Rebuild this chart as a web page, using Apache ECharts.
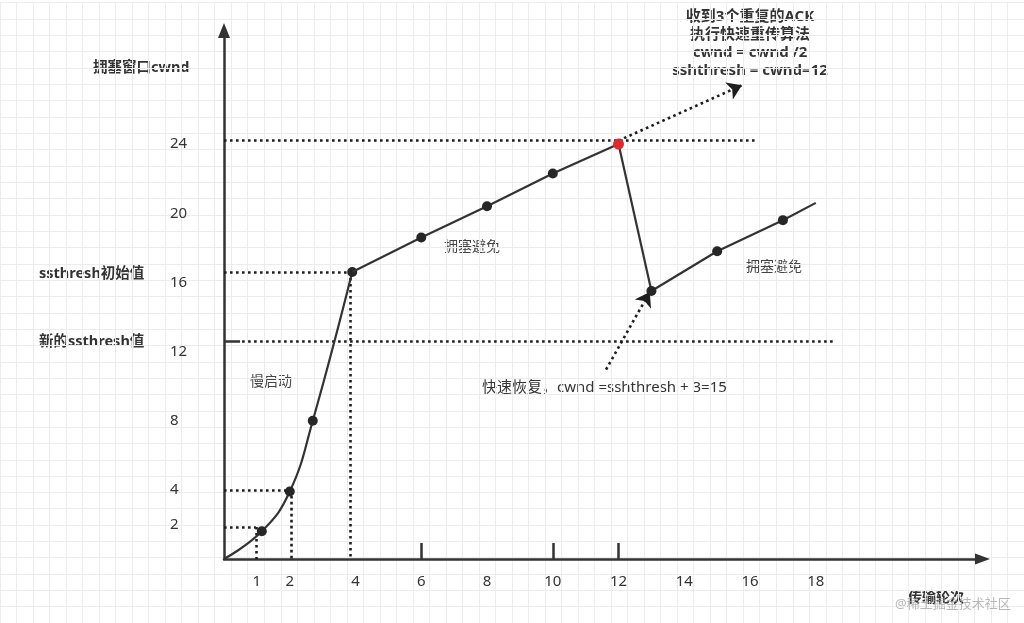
<!DOCTYPE html>
<html><head><meta charset="utf-8">
<script src="https://cdn.jsdelivr.net/npm/echarts@6/dist/echarts.min.js"></script>
<style>html,body{margin:0;padding:0;background:#fff}#c{width:1024px;height:623px}</style>
</head><body><div id="c"></div>
<script>
// ---- data ----
const xTickLabels = [1, 2, 4, 6, 8, 10, 12, 14, 16, 18];
const xTickMarks = [6, 10, 12];
const yTickLabels = [2, 4, 8, 12, 16, 20, 24];

const slowStartRounds = [0, 1.15, 2, 2.7, 3.9];
const slowStartCwnd   = [0, 1.6, 3.9, 8, 16.6];

const avoidRounds = [3.9, 6, 8, 10, 12];
const avoidCwnd   = [16.6, 18.6, 20.4, 22.3, 24];

const dropRounds = [12, 13];
const dropCwnd   = [24, 15.5];

const recoveryRounds = [13, 15, 17, 18];
const recoveryCwnd   = [15.5, 17.8, 19.6, 20.6];

const peakLevel = 24.2, peakGuideEnd = 16.2;
const initSsthresh = 16.6, initRound = 3.85;
const level4 = 4, level4Round = 2.05;
const level2 = 1.85, level2Round = 0.97;
const newSsthresh = 12.6, newGuideEnd = 18.6;

const timeoutArrow = [[12, 24.2], [15.75, 27.4]];
const recoveryArrow = [[11.62, 10.96], [12.95, 15.45]];

// ---- build ----
const INK = '#333';
const FONT = '"Noto Sans", "Noto Sans CJK SC", sans-serif';
function pairs(xs, ys, lastNoSymbol) {
  return xs.map((x, i) => {
    const item = { value: [x, ys[i]] };
    if ((i === 0 && !lastNoSymbol) || (lastNoSymbol && i === xs.length - 1)) item.symbol = 'none';
    return item;
  });
}
const dotted = { color: '#1e1e1e', width: 2.6, type: [2.6, 3.4], opacity: 1 };

const guideSegments = [
  [[0, peakLevel], [peakGuideEnd, peakLevel]],
  [[0, initSsthresh], [initRound, initSsthresh]],
  [[initRound, initSsthresh], [initRound, 0]],
  [[0, level4], [level4Round, level4]],
  [[level4Round, level4], [level4Round, 0]],
  [[0, level2], [level2Round, level2]],
  [[level2Round, level2], [level2Round, 0]],
  [[0.55, newSsthresh], [newGuideEnd, newSsthresh]]
];

const avoidData = pairs(avoidRounds, avoidCwnd, false);
avoidData[avoidData.length - 1].itemStyle = { color: '#e2262c' };
avoidData[avoidData.length - 1].symbolSize = 11;

const chart = echarts.init(document.getElementById('c'), null, { renderer: 'canvas' });
chart.setOption({
  animation: false,
  backgroundColor: '#fff',
  grid: [
    { left: 224, right: 41.5, top: 30.5, bottom: 64 },
    { left: -1.24, right: -45.5, top: 2.7, bottom: -37.1 }
  ],
  xAxis: [
    {
      gridIndex: 0, type: 'value', min: 0, max: 23.07,
      axisLine: { show: true, symbol: ['none', 'triangle'], symbolSize: [11, 15], lineStyle: { color: INK, width: 2.5 } },
      axisTick: { show: true, inside: true, length: 16, customValues: xTickMarks, lineStyle: { color: INK, width: 2.5 } },
      axisLabel: { customValues: xTickLabels, margin: 15, fontSize: 15, color: INK, fontFamily: FONT },
      splitLine: { show: false }
    },
    {
      gridIndex: 1, type: 'value', min: 0, max: 62, interval: 1,
      axisLine: { show: false }, axisTick: { show: false }, axisLabel: { show: false },
      splitLine: { show: true, lineStyle: { color: '#ececec', width: 1 } }
    }
  ],
  yAxis: [
    {
      gridIndex: 0, type: 'value', min: 0, max: 30.57,
      axisLine: { show: true, symbol: ['none', 'triangle'], symbolSize: [12, 15], lineStyle: { color: INK, width: 2.5 } },
      axisTick: { show: true, inside: true, length: 16, customValues: [newSsthresh], lineStyle: { color: INK, width: 2.5 } },
      axisLabel: { customValues: yTickLabels, margin: 54, align: 'left', fontSize: 15, color: INK, fontFamily: FONT },
      splitLine: { show: false }
    },
    {
      gridIndex: 1, type: 'value', min: 0, max: 38, interval: 1, inverse: true,
      axisLine: { show: false }, axisTick: { show: false }, axisLabel: { show: false },
      splitLine: { show: true, lineStyle: { color: '#ececec', width: 1 } }
    }
  ],
  series: [
    { type: 'scatter', xAxisIndex: 1, yAxisIndex: 1, data: [], silent: true },
    {
      type: 'lines', coordinateSystem: 'cartesian2d', z: 2, silent: true,
      symbol: ['none', 'none'],
      lineStyle: dotted,
      data: guideSegments.map(c => ({ coords: c }))
    },
    {
      type: 'lines', coordinateSystem: 'cartesian2d', z: 2, silent: true,
      symbol: ['none', 'arrow'], symbolSize: 14,
      lineStyle: dotted,
      itemStyle: { color: '#1e1e1e' },
      data: [{ coords: timeoutArrow }, { coords: recoveryArrow }]
    },
    {
      type: 'line', z: 3, smooth: 0.45, showAllSymbol: true,
      symbol: 'circle', symbolSize: 10,
      lineStyle: { color: INK, width: 2.2 }, itemStyle: { color: '#262626' },
      data: pairs(slowStartRounds, slowStartCwnd, false)
    },
    {
      type: 'line', z: 4, showAllSymbol: true,
      symbol: 'circle', symbolSize: 10,
      lineStyle: { color: INK, width: 2.2 }, itemStyle: { color: '#262626' },
      data: avoidData
    },
    {
      type: 'line', z: 3, showSymbol: false,
      lineStyle: { color: INK, width: 2.2 },
      data: dropRounds.map((x, i) => [x, dropCwnd[i]])
    },
    {
      type: 'line', z: 4, showAllSymbol: true,
      symbol: 'circle', symbolSize: 10,
      lineStyle: { color: INK, width: 2.2 }, itemStyle: { color: '#262626' },
      data: pairs(recoveryRounds, recoveryCwnd, true)
    }
  ],
  graphic: [
    { type: 'text', x: 93, y: 68, style: { text: '拥塞窗口cwnd', font: 'bold 14.5px ' + FONT, fill: INK, align: 'left', verticalAlign: 'middle' } },
    { type: 'text', x: 39, y: 274, style: { text: 'ssthresh初始值', font: 'bold 14.5px ' + FONT, fill: INK, align: 'left', verticalAlign: 'middle' } },
    { type: 'text', x: 39, y: 342, style: { text: '新的ssthresh值', font: 'bold 14.5px ' + FONT, fill: INK, align: 'left', verticalAlign: 'middle' } },
    { type: 'text', x: 271, y: 382, style: { text: '慢启动', font: '14px ' + FONT, fill: '#444', align: 'center', verticalAlign: 'middle' } },
    { type: 'text', x: 472, y: 247, style: { text: '拥塞避免', font: '14px ' + FONT, fill: '#444', align: 'center', verticalAlign: 'middle' } },
    { type: 'text', x: 774, y: 267, style: { text: '拥塞避免', font: '14px ' + FONT, fill: '#444', align: 'center', verticalAlign: 'middle' } },
    { type: 'text', x: 482, y: 388, style: { text: '快速恢复，cwnd =sshthresh + 3=15', font: '15px ' + FONT, fill: INK, align: 'left', verticalAlign: 'middle' } },
    { type: 'text', x: 750, y: 8, style: { text: '收到3个重复的ACK\n执行快速重传算法\ncwnd = cwnd /2\nsshthresh = cwnd=12', font: 'bold 15px ' + FONT, lineHeight: 18, fill: INK, align: 'center', verticalAlign: 'top' } },
    { type: 'text', x: 936, y: 598, style: { text: '传输轮次', font: 'bold 14px ' + FONT, fill: INK, align: 'center', verticalAlign: 'middle' } },
    { type: 'text', x: 895, y: 604, z: 100, style: { text: '@稀土掘金技术社区', font: '13px ' + FONT, fill: 'rgba(160,160,160,0.75)', align: 'left', verticalAlign: 'middle' } }
  ]
});
</script></body></html>
